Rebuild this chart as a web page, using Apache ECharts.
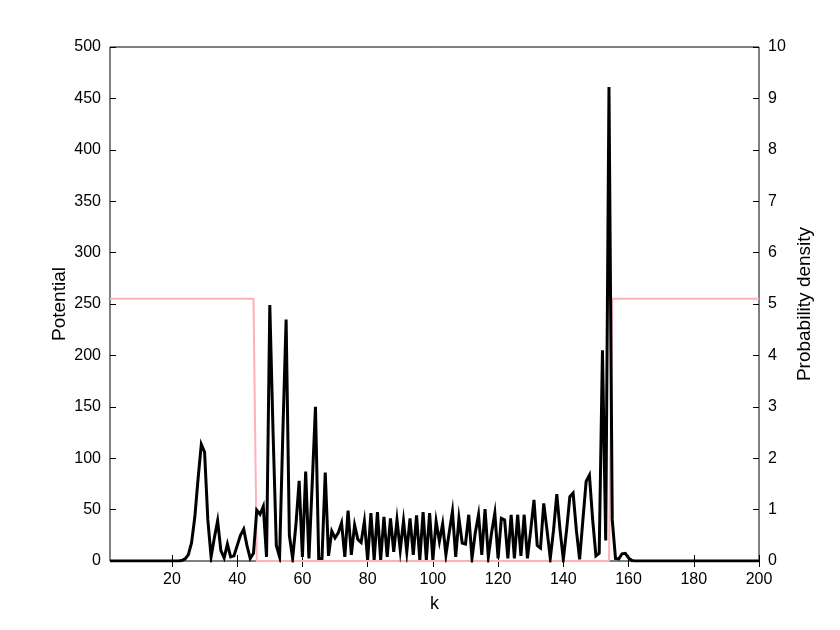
<!DOCTYPE html>
<html><head><meta charset="utf-8">
<script src="https://cdn.jsdelivr.net/npm/echarts@6/dist/echarts.min.js"></script>
<style>html,body{margin:0;padding:0;background:#fff}#c{width:840px;height:630px}</style>
</head><body><div id="c"></div>
<script>
// x tick labels
const xTicks = [20, 40, 60, 80, 100, 120, 140, 160, 180, 200];
// potential breakpoints (k, potential)
const potentialK = [1, 45, 46, 154, 155, 200];
const potentialV = [255, 255, 0, 0, 255, 255];
// probability density for k = 1..200
const density = [
  0,0,0,0,0,0,0,0,0,0, 0,0,0,0,0,0,0,0,0,0, 0,0,
  0.01,0.04,0.12,0.35,0.85,1.6,2.27,2.12,
  0.8,0.08,0.45,0.78,0.2,0.06,0.33,0.08,0.1,0.3,
  0.5,0.62,0.3,0.05,0.15,0.99,0.91,1.06,0.08,4.98,
  2.5,0.3,0.08,2.5,4.7,0.5,0.05,0.7,1.56,0.08,
  1.74,0.05,1.5,3.0,0.05,0.05,1.72,0.1,0.58,0.45,
  0.55,0.74,0.08,0.98,0.12,0.7,0.42,0.36,0.77,0.02,
  0.93,0.02,0.95,0.02,0.86,0.08,0.83,0.18,0.8,0.21,
  0.78,0.18,0.83,0.12,0.89,0.02,0.95,0.02,0.93,0.02,
  0.77,0.38,0.72,0.12,0.55,0.96,0.08,0.83,0.35,0.33,
  0.9,0.05,0.55,0.9,0.12,1.01,0.08,0.55,0.93,0.05,
  0.83,0.8,0.05,0.9,0.05,0.9,0.1,0.9,0.05,0.6,
  1.19,0.3,0.25,1.12,0.6,0.05,0.6,1.3,0.6,0.03,
  0.6,1.25,1.32,0.6,0.03,0.8,1.55,1.67,0.8,0.1,
  0.15,4.1,0.4,9.22,0.8,0.05,0.04,0.14,0.15,0.06,
  0.01,0,0,0,0,0,0,0,0,0,
  0,0,0,0,0,0,0,0,0,0, 0,0,0,0,0,0,0,0,0,0, 0,0,0,0,0,0,0,0,0,0
];

const potData = potentialK.map((k, i) => [k, potentialV[i]]);
const denData = density.map((v, i) => [i + 1, v]);

const FONT = '"Liberation Sans", Arial, sans-serif';
const chart = echarts.init(document.getElementById('c'), null, {renderer: 'canvas'});
chart.setOption({
  animation: false,
  backgroundColor: '#fff',
  textStyle: {fontFamily: FONT, color: '#000'},
  grid: {left: 110, right: 81, top: 47, bottom: 69, show: true, borderColor: '#000', borderWidth: 1, backgroundColor: 'transparent'},
  xAxis: [{
    type: 'value', min: 1, max: 200, position: 'bottom',
    name: 'k', nameLocation: 'middle', nameGap: 34, nameMoveOverlap: false,
    nameTextStyle: {fontSize: 18, color: '#000', fontFamily: FONT},
    axisLine: {show: false},
    axisTick: {show: true, inside: true, length: 6, customValues: xTicks, lineStyle: {color: '#000'}},
    axisLabel: {show: true, customValues: xTicks, fontSize: 16, color: '#000', margin: 11, fontFamily: FONT},
    splitLine: {show: false}
  }, {
    type: 'value', min: 1, max: 200, position: 'top',
    axisLine: {show: false},
    axisTick: {show: true, inside: true, length: 6, customValues: xTicks, lineStyle: {color: '#000'}},
    axisLabel: {show: false},
    splitLine: {show: false}
  }],
  yAxis: [{
    type: 'value', min: 0, max: 500, interval: 50, position: 'left',
    name: 'Potential', nameLocation: 'middle', nameGap: 41, nameRotate: 90, nameMoveOverlap: false,
    nameTextStyle: {fontSize: 19, color: '#000', fontFamily: FONT},
    axisLine: {show: false},
    axisTick: {show: true, inside: true, length: 6, lineStyle: {color: '#000'}},
    axisLabel: {fontSize: 16, color: '#000', margin: 9, fontFamily: FONT},
    splitLine: {show: false}
  }, {
    type: 'value', min: 0, max: 10, interval: 1, position: 'right',
    name: 'Probability density', nameLocation: 'middle', nameGap: 36, nameRotate: 90, nameMoveOverlap: false,
    nameTextStyle: {fontSize: 19, color: '#000', fontFamily: FONT},
    axisLine: {show: false},
    axisTick: {show: true, inside: true, length: 6, lineStyle: {color: '#000'}},
    axisLabel: {fontSize: 16, color: '#000', margin: 9, fontFamily: FONT},
    splitLine: {show: false}
  }],
  series: [{
    type: 'line', name: 'Potential', xAxisIndex: 0, yAxisIndex: 0,
    data: potData, showSymbol: false, symbol: 'none',
    lineStyle: {color: '#ffb0b8', width: 2}, z: 2
  }, {
    type: 'line', name: 'Probability density', xAxisIndex: 0, yAxisIndex: 1,
    data: denData, showSymbol: false, symbol: 'none',
    lineStyle: {color: '#000', width: 3, join: 'miter'}, z: 3
  }]
});
</script>
</body></html>
